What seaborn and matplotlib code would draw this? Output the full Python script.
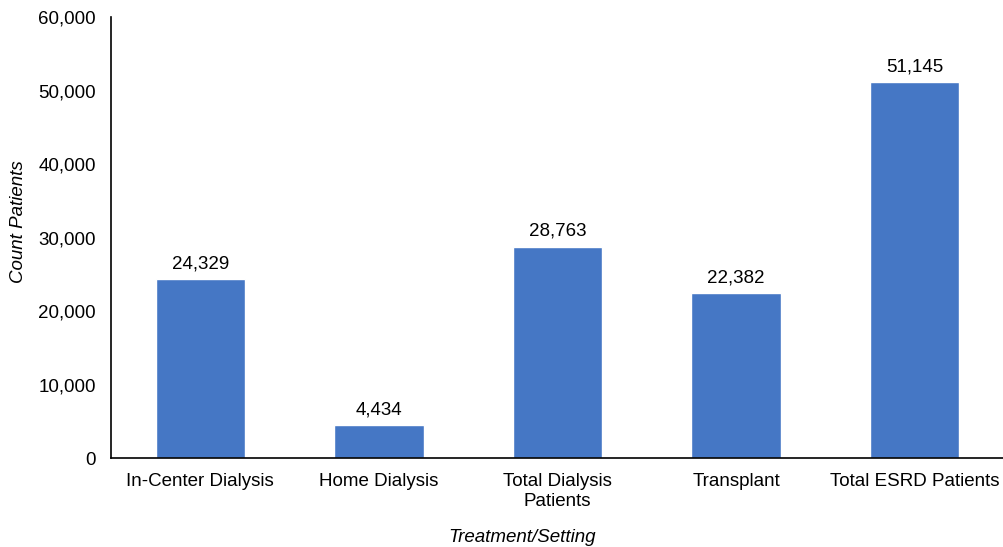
import matplotlib
matplotlib.use("Agg")
import matplotlib.pyplot as plt
import seaborn as sns
import pandas as pd

categories = ["In-Center Dialysis", "Home Dialysis", "Total Dialysis\nPatients", "Transplant", "Total ESRD Patients"]
counts = [24329, 4434, 28763, 22382, 51145]
y_ticks = [0, 10000, 20000, 30000, 40000, 50000, 60000]

sns.set_theme(style="white")
plt.rcParams['font.family'] = ['Liberation Sans', 'DejaVu Sans']
plt.rcParams['text.color'] = 'black'
plt.rcParams['axes.labelcolor'] = 'black'
plt.rcParams['xtick.color'] = 'black'
plt.rcParams['ytick.color'] = 'black'

df = pd.DataFrame({"Treatment": categories, "Count": counts})

fs = 13.5
fig = plt.figure(figsize=(10.04, 5.47), dpi=100)
ax = fig.add_axes([0.1106, 0.1627, 0.8894, 0.8062])
sns.barplot(data=df, x="Treatment", y="Count", color="#4577c5", width=0.5, ax=ax, saturation=1)

ax.set_xlim(-0.5, 4.5)
ax.set_ylim(0, 60000)
ax.set_yticks(y_ticks)
ax.set_yticklabels([f"{v:,}" for v in y_ticks], fontsize=fs)
ax.tick_params(axis='x', labelsize=fs, length=0, pad=11)
ax.tick_params(axis='y', length=0, pad=11)

for i, v in enumerate(counts):
    ax.text(i, v + 950, f"{v:,}", ha="center", va="bottom", fontsize=fs)

for s in ["top", "right"]:
    ax.spines[s].set_visible(False)
for s in ["left", "bottom"]:
    ax.spines[s].set_color("black")
    ax.spines[s].set_linewidth(1.2)

ax.set_ylabel("Count Patients", fontsize=fs, fontstyle="italic")
ax.yaxis.set_label_coords(-0.094, 0.537)
ax.set_xlabel("Treatment/Setting", fontsize=fs, fontstyle="italic")
ax.xaxis.set_label_coords(0.46, -0.16)

fig.savefig("out.png", dpi=100)
